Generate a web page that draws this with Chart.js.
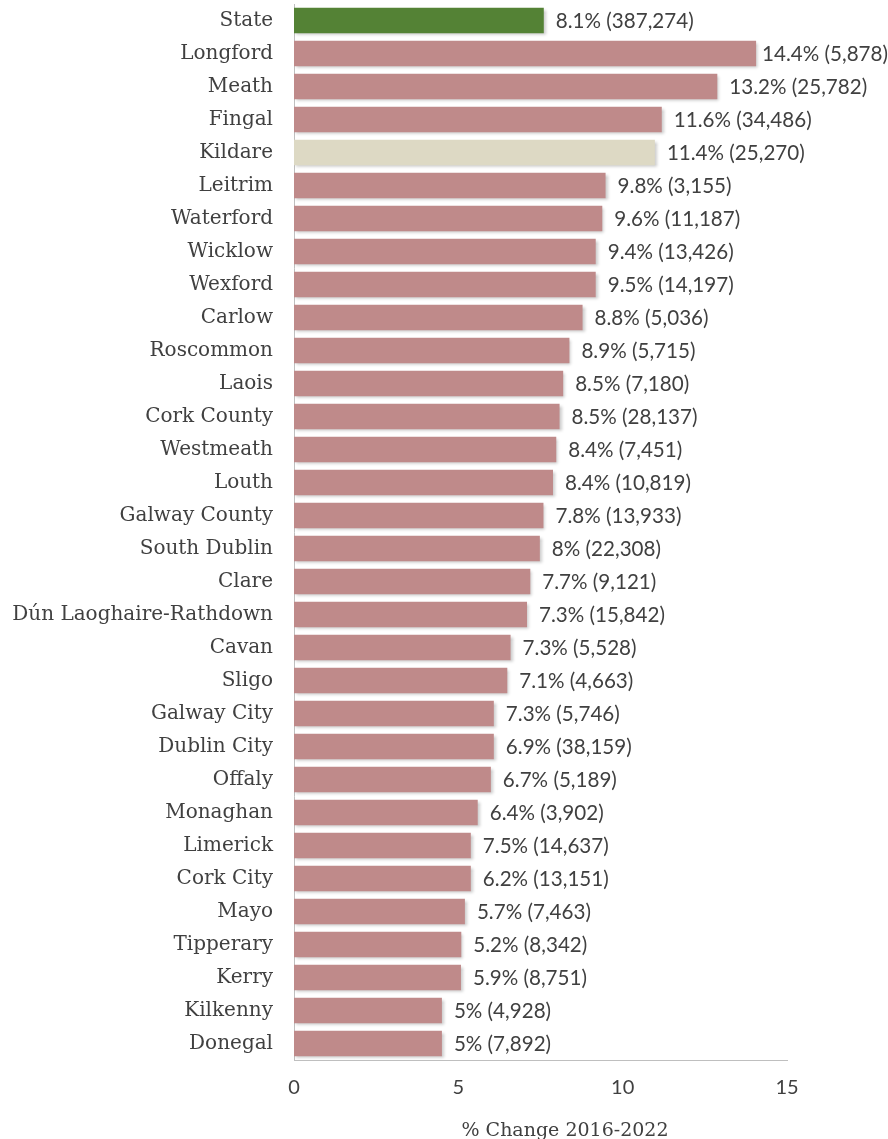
<!DOCTYPE html>
<html>
<head>
<meta charset="utf-8">
<script src="https://cdn.jsdelivr.net/npm/chart.js@4"></script>
<style>
  body { margin: 0; background: #fff; }
  #wrap { width: 888px; height: 1139px; position: relative; }
</style>
</head>
<body>
<div id="wrap"><canvas id="chart"></canvas></div>
<script>
// === DATA ===
const counties = [
    "State", "Longford", "Meath", "Fingal", "Kildare", "Leitrim", "Waterford", "Wicklow",
    "Wexford", "Carlow", "Roscommon", "Laois", "Cork County", "Westmeath", "Louth",
    "Galway County", "South Dublin", "Clare", "Dún Laoghaire-Rathdown", "Cavan", "Sligo",
    "Galway City", "Dublin City", "Offaly", "Monaghan", "Limerick", "Cork City", "Mayo",
    "Tipperary", "Kerry", "Kilkenny", "Donegal",
];
// bar lengths as drawn
const barValues = [
    7.6, 14.06, 12.88, 11.19, 10.98, 9.48, 9.38, 9.18,
    9.18, 8.78, 8.38, 8.19, 8.08, 7.98, 7.88,
    7.59, 7.48, 7.19, 7.09, 6.59, 6.49,
    6.08, 6.08, 5.99, 5.59, 5.38, 5.38, 5.2,
    5.09, 5.08, 4.5, 4.5,
];
// printed % change
const pctChange = [
    8.1, 14.4, 13.2, 11.6, 11.4, 9.8, 9.6, 9.4,
    9.5, 8.8, 8.9, 8.5, 8.5, 8.4, 8.4,
    7.8, 8, 7.7, 7.3, 7.3, 7.1,
    7.3, 6.9, 6.7, 6.4, 7.5, 6.2, 5.7,
    5.2, 5.9, 5, 5,
];
// printed absolute change
const absChange = [
    387274, 5878, 25782, 34486, 25270, 3155, 11187, 13426,
    14197, 5036, 5715, 7180, 28137, 7451, 10819,
    13933, 22308, 9121, 15842, 5528, 4663,
    5746, 38159, 5189, 3902, 14637, 13151, 7463,
    8342, 8751, 4928, 7892,
];
const xTicks = [0, 5, 10, 15];
const xTitle = "% Change 2016-2022";

// === STYLE ===
const SANS = "Lato, 'Open Sans', sans-serif";
const SERIF = "'DejaVu Serif', 'Liberation Serif', serif";
const TEXT = "#404040";
const AXIS = "#bfbfbf";
const barColor = (name) => (name === "State" ? "#548235" : name === "Kildare" ? "#ddd9c4" : "#bf8a8a");

// soft shadow under bars
const shadowPlugin = {
    id: "barShadow",
    beforeDatasetDraw(chart) {
        const ctx = chart.ctx;
        ctx.save();
        ctx.shadowColor = "rgba(0,0,0,0.22)";
        ctx.shadowBlur = 3;
        ctx.shadowOffsetX = 2;
        ctx.shadowOffsetY = 2;
    },
    afterDatasetDraw(chart) {
        chart.ctx.restore();
    },
};

// value labels to the right of each bar
const labelPlugin = {
    id: "barLabels",
    afterDatasetsDraw(chart) {
        const ctx = chart.ctx;
        const meta = chart.getDatasetMeta(0);
        ctx.save();
        ctx.font = `20.6px ${SANS}`;
        ctx.fillStyle = TEXT;
        ctx.textBaseline = "middle";
        ctx.textAlign = "left";
        meta.data.forEach((bar, i) => {
            const txt = `${pctChange[i]}% (${absChange[i].toLocaleString("en-US")})`;
            const w = ctx.measureText(txt).width;
            let x = bar.x + 12;
            if (x + w > chart.width) x = chart.width - w;
            ctx.fillText(txt, x, bar.y + 1);
        });
        ctx.restore();
    },
};

// axis title, centred a little right of the plot centre as in the source
const titlePlugin = {
    id: "xTitle",
    afterDraw(chart) {
        const ctx = chart.ctx;
        ctx.save();
        ctx.font = `19px ${SERIF}`;
        ctx.fillStyle = TEXT;
        ctx.textAlign = "center";
        ctx.textBaseline = "alphabetic";
        ctx.fillText(xTitle, 565, 1136);
        ctx.restore();
    },
};

new Chart(document.getElementById("chart"), {
    type: "bar",
    data: {
        labels: counties,
        datasets: [
            {
                data: barValues,
                backgroundColor: counties.map(barColor),
                borderWidth: 0,
                categoryPercentage: 1,
                barPercentage: 0.78,
            },
        ],
    },
    options: {
        indexAxis: "y",
        responsive: true,
        maintainAspectRatio: false,
        animation: false,
        layout: { padding: { top: 4, right: 101, left: 0, bottom: 0 } },
        plugins: {
            legend: { display: false },
            tooltip: { enabled: false },
        },
        scales: {
            x: {
                min: 0,
                max: 15,
                afterBuildTicks: (scale) => {
                    scale.ticks = xTicks.map((v) => ({ value: v }));
                },
                afterFit: (scale) => {
                    scale.height = 79;
                },
                grid: { display: false, drawTicks: false },
                border: { display: true, color: AXIS, width: 1 },
                ticks: { color: TEXT, padding: 16, font: { family: SANS, size: 20 } },
            },
            y: {
                afterFit: (scale) => {
                    scale.width = 294;
                    // labels sit inside their bands, no extra room needed above/below
                    scale.paddingTop = 0;
                    scale.paddingBottom = 0;
                },
                grid: { display: false, drawTicks: false },
                border: { display: true, color: AXIS, width: 1 },
                ticks: { color: TEXT, padding: 21, autoSkip: false, font: { family: SERIF, size: 20 } },
            },
        },
    },
    plugins: [shadowPlugin, labelPlugin, titlePlugin],
});
</script>
</body>
</html>
